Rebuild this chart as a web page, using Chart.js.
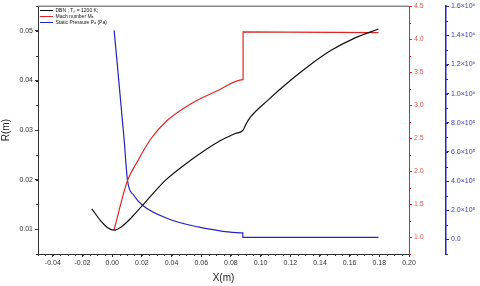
<!DOCTYPE html>
<html><head><meta charset="utf-8">
<script src="https://cdn.jsdelivr.net/npm/chart.js@4.4.1/dist/chart.umd.min.js"></script>
<style>html,body{margin:0;padding:0;background:#fff;}#wrap{width:480px;height:286px;position:relative;}</style>
</head><body><div id="wrap"><canvas id="c" width="480" height="286"></canvas></div>
<script>
// ---- data ----
const seriesNames = ['DBN ; T\u2080 = 1200 K;', 'Mach number M\u2090', 'Static Pressure P\u2090 (Pa)'];

const radiusX = [-0.0137, -0.0077, -0.0030, 0.0013, 0.0058, 0.0125, 0.0204, 0.0360, 0.0528, 0.0730, 0.0830, 0.0882, 0.0900, 0.0931, 0.1044, 0.1200, 0.1335, 0.1470, 0.1637, 0.1794];
const radiusR = [0.0141, 0.0117, 0.0103, 0.0098, 0.0104, 0.0122, 0.0148, 0.0199, 0.0239, 0.0279, 0.0293, 0.0300, 0.0311, 0.0326, 0.0359, 0.0400, 0.0432, 0.0460, 0.0486, 0.0504];

const machX = [0.0013, 0.0103, 0.0170, 0.0260, 0.0370, 0.0528, 0.0708, 0.0882, 0.0882, 0.1794];
const machM = [1.12, 1.86, 2.15, 2.49, 2.77, 3.02, 3.22, 3.39, 4.11, 4.10];

const pressX = [0.0013, 0.0080, 0.0103, 0.0145, 0.0204, 0.0372, 0.0573, 0.0864, 0.0880, 0.0880, 0.1794];
const pressP = [1.434e6, 0.690e6, 0.405e6, 0.303e6, 0.235e6, 0.144e6, 0.087e6, 0.045e6, 0.045e6, 0.014e6, 0.014e6];

const xTicks = [-0.04, -0.02, 0.00, 0.02, 0.04, 0.06, 0.08, 0.10, 0.12, 0.14, 0.16, 0.18, 0.20];
const rTicks = [0.01, 0.02, 0.03, 0.04, 0.05];
const machTicks = [1.0, 1.5, 2.0, 2.5, 3.0, 3.5, 4.0, 4.5];
const pressTicks = [0, 2e5, 4e5, 6e5, 8e5, 1e6, 1.2e6, 1.4e6, 1.6e6];
const pressTickLabels = ['0.0', '2.0\u00d710\u2075', '4.0\u00d710\u2075', '6.0\u00d710\u2075', '8.0\u00d710\u2075', '1.0\u00d710\u2076', '1.2\u00d710\u2076', '1.4\u00d710\u2076', '1.6\u00d710\u2076'];

// ---- chart ----
Chart.defaults.font.family = "'Liberation Sans', Arial, sans-serif";
const pts = (xs, ys) => xs.map((x, i) => ({x: x, y: ys[i]}));
const setTicks = arr => scale => { scale.ticks = arr.map(v => ({value: v})); };

const RED = '#e02424', BLUE = '#2424c0';

const minorTicks = {
  id: 'minorTicks',
  afterDraw(chart) {
    const ctx = chart.ctx, a = chart.chartArea;
    ctx.save();
    ctx.strokeStyle = '#8a8a8a';
    ctx.lineWidth = 1.5;
    ctx.beginPath(); ctx.moveTo(a.left, a.top); ctx.lineTo(a.right, a.top); ctx.stroke();
    ctx.lineWidth = 1;
    const sx = chart.scales.x;
    ctx.strokeStyle = '#333';
    for (let v = -0.05; v <= 0.2001; v += 0.005) {
      const p = Math.round(sx.getPixelForValue(v)) + 0.5;
      ctx.beginPath(); ctx.moveTo(p, a.bottom); ctx.lineTo(p, a.bottom + 2); ctx.stroke();
    }
    const sy = chart.scales.y;
    for (let v = 0.005; v <= 0.0551; v += 0.005) {
      const p = Math.round(sy.getPixelForValue(v)) + 0.5;
      ctx.beginPath(); ctx.moveTo(a.left, p); ctx.lineTo(a.left - 2, p); ctx.stroke();
    }
    const sm = chart.scales.yM;
    ctx.strokeStyle = RED;
    for (let v = 0.75; v <= 4.501; v += 0.25) {
      const p = Math.round(sm.getPixelForValue(v)) + 0.5;
      ctx.beginPath(); ctx.moveTo(sm.left, p); ctx.lineTo(sm.left + 2, p); ctx.stroke();
    }
    const sp = chart.scales.yP;
    ctx.strokeStyle = BLUE;
    for (let v = -1e5; v <= 1.6e6 + 1; v += 1e5) {
      const p = Math.round(sp.getPixelForValue(v)) + 0.5;
      ctx.beginPath(); ctx.moveTo(sp.left, p); ctx.lineTo(sp.left + 2, p); ctx.stroke();
    }
    ctx.restore();
  }
};

const placeLegend = {
  id: 'placeLegend',
  beforeDraw(chart) {
    const lg = chart.legend;
    if (!lg) return;
    const h = lg.height;
    lg.left = 39; lg.top = 7; lg.bottom = 7 + h; lg.right = 39 + lg.width;
  }
};

new Chart(document.getElementById('c'), {
  type: 'scatter',
  data: {
    datasets: [
      {label: seriesNames[0], data: pts(radiusX, radiusR), yAxisID: 'y', borderColor: '#111', backgroundColor: '#111', borderWidth: 1.2},
      {label: seriesNames[1], data: pts(machX, machM), yAxisID: 'yM', borderColor: RED, backgroundColor: RED, borderWidth: 1.2},
      {label: seriesNames[2], data: pts(pressX, pressP), yAxisID: 'yP', borderColor: BLUE, backgroundColor: BLUE, borderWidth: 1.2}
    ]
  },
  options: {
    animation: false,
    responsive: false,
    showLine: true,
    elements: {point: {radius: 0, hoverRadius: 0}, line: {tension: 0.35, cubicInterpolationMode: 'monotone'}},
    layout: {padding: {top: 5, left: 0, right: 0, bottom: 0}},
    plugins: {
      tooltip: {enabled: false},
      legend: {
        position: 'chartArea', align: 'start',
        labels: {usePointStyle: true, pointStyle: 'line', pointStyleWidth: 13, boxHeight: 5, font: {size: 5}, padding: 1, color: '#111'}
      }
    },
    scales: {
      x: {
        type: 'linear', position: 'bottom', min: -0.05, max: 0.20,
        afterBuildTicks: setTicks(xTicks),
        afterFit: s => { s.height = 32; },
        ticks: {font: {size: 7}, color: '#333', padding: 2, maxRotation: 0, autoSkip: false, callback: v => v.toFixed(2)},
        grid: {drawOnChartArea: false, tickLength: 3, color: '#333'},
        border: {color: '#333', width: 1},
        title: {display: true, text: 'X(m)', font: {size: 10}, color: '#222', padding: {top: 0, bottom: 2}}
      },
      y: {
        type: 'linear', position: 'left', min: 0.005, max: 0.055,
        afterBuildTicks: setTicks(rTicks),
        afterFit: s => { s.width = 38; },
        ticks: {font: {size: 7}, color: '#333', padding: 2, autoSkip: false, callback: v => v.toFixed(2)},
        grid: {drawOnChartArea: false, tickLength: 3, color: '#333'},
        border: {color: '#333', width: 1},
        title: {display: true, text: 'R(m)', font: {size: 10}, color: '#222', padding: {top: 0, bottom: 1}}
      },
      yM: {
        type: 'linear', position: 'right', weight: 1, min: 0.75, max: 4.5,
        afterBuildTicks: setTicks(machTicks),
        afterFit: s => { s.width = 37; },
        ticks: {font: {size: 7}, color: '#e05a5a', padding: 2, autoSkip: false, callback: v => v.toFixed(1)},
        grid: {drawOnChartArea: false, tickLength: 3, color: RED},
        border: {color: RED, width: 1}
      },
      yP: {
        type: 'linear', position: 'right', weight: 2, min: -1e5, max: 1.6e6,
        afterBuildTicks: setTicks(pressTicks),
        afterFit: s => { s.width = 34; },
        ticks: {font: {size: 7}, color: '#3a3ab0', padding: 2, autoSkip: false, callback: v => pressTickLabels[pressTicks.indexOf(v)]},
        grid: {drawOnChartArea: false, tickLength: 3, color: BLUE},
        border: {color: BLUE, width: 1.5}
      }
    }
  },
  plugins: [minorTicks, placeLegend]
});
</script></body></html>
